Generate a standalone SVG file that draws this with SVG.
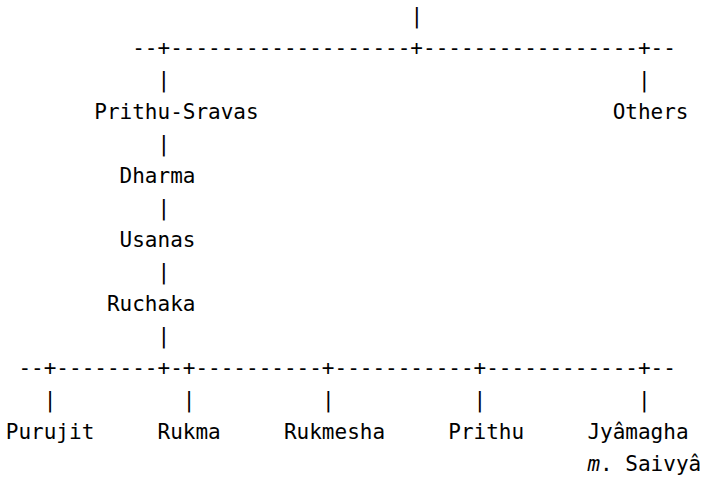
<svg xmlns="http://www.w3.org/2000/svg" width="701" height="477" viewBox="0 0 701 477">
<style>
text { font-family: "DejaVu Sans Mono", "Liberation Mono", monospace; font-size: 21px; fill: #000; }
.it { font-style: italic; }
</style>
<rect x="0" y="0" width="701" height="477" fill="#fff"/>
<g id="connectors">
<text x="410.38" y="22.5">|</text>
<text x="132.23" y="54.5">--+-------------------+-----------------+--</text>
<text x="157.52" y="86.5">|</text>
<text x="637.95" y="86.5">|</text>
<text x="157.52" y="150.5">|</text>
<text x="157.52" y="214.5">|</text>
<text x="157.52" y="278.5">|</text>
<text x="157.52" y="342.5">|</text>
<text x="18.44" y="374.5">--+--------+-+----------+-----------+------------+--</text>
<text x="43.73" y="406.5">|</text>
<text x="182.8" y="406.5">|</text>
<text x="321.88" y="406.5">|</text>
<text x="473.59" y="406.5">|</text>
<text x="637.95" y="406.5">|</text>
</g>
<g id="prithu-sravas"><text x="94.3" y="118.5">Prithu-Sravas</text></g>
<g id="others"><text x="612.66" y="118.5">Others</text></g>
<g id="dharma"><text x="119.59" y="182.5">Dharma</text></g>
<g id="usanas"><text x="119.59" y="246.5">Usanas</text></g>
<g id="ruchaka"><text x="106.94" y="310.5">Ruchaka</text></g>
<g id="purujit"><text x="5.8" y="438.5">Purujit</text></g>
<g id="rukma"><text x="157.52" y="438.5">Rukma</text></g>
<g id="rukmesha"><text x="283.95" y="438.5">Rukmesha</text></g>
<g id="prithu"><text x="448.31" y="438.5">Prithu</text></g>
<g id="jyamagha">
<text x="587.38" y="438.5">Jyâmagha</text>
<text x="587.38" y="470.5"><tspan class="it">m</tspan>. Saivyâ</text>
</g>
</svg>
